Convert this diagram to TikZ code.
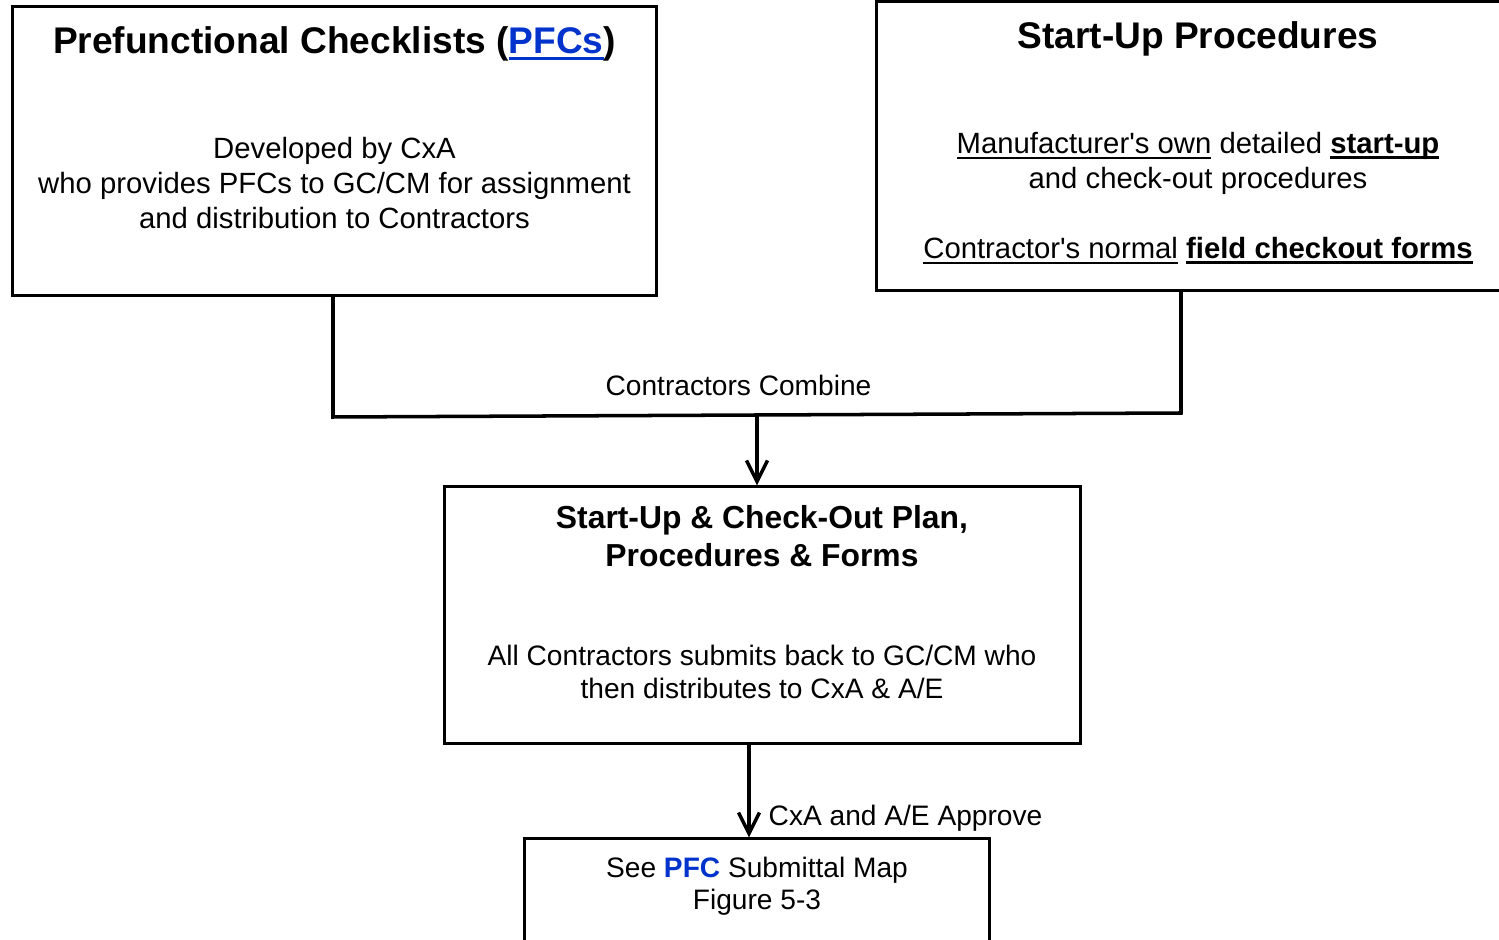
\documentclass[tikz,border=0pt]{standalone}
\usepackage{fontspec}
\setmainfont{Liberation Sans}[Ligatures=TeXOff]
\usetikzlibrary{arrows.meta}
\definecolor{linkblue}{RGB}{0,51,204}

% Underline drawn as a rule beneath a saved box
\newsavebox\undlbox
\newcommand{\undl}[2][0.6pt]{\sbox\undlbox{#2}\rlap{\rule[-1.6pt]{\wd\undlbox}{#1}}\usebox\undlbox}

\tikzset{
  box/.style={draw=black, line width=0.85pt, rectangle, inner sep=0pt},
  conn/.style={draw=black, line width=1pt},
  arrowconn/.style={conn, -{Straight Barb[length=2.1mm,width=2.1mm,line width=1pt]}},
  txt/.style={anchor=base, inner sep=0pt, font=\fontsize{8.33}{10}\selectfont},
  smalltxt/.style={anchor=base, inner sep=0pt, font=\fontsize{8}{10}\selectfont},
  title/.style={anchor=base, inner sep=0pt, font=\fontsize{10.55}{12}\selectfont\bfseries},
  midtitle/.style={anchor=base, inner sep=0pt, font=\fontsize{9.05}{11}\selectfont\bfseries},
}

\begin{document}
\begin{tikzpicture}[x=0.01cm, y=-0.01cm]
  \useasboundingbox (0,0) rectangle (1499,940);

  % Boxes
  \node[box, minimum width=6.43cm, minimum height=2.88cm] (pfc) at (334.5,151) {};
  \node[box, minimum width=6.42cm, minimum height=2.88cm] (sup) at (1198,146) {};
  \node[box, minimum width=6.35cm, minimum height=2.56cm] (plan) at (762.5,615) {};
  \node[box, minimum width=4.64cm, minimum height=1.50cm] (map) at (757,914) {};

  % Prefunctional checklists
  \node[title] (pfcT) at (334.5,54) {Prefunctional Checklists (\textcolor{linkblue}{\undl[0.8pt]{PFCs}})};
  \node[txt] (pfc1) at (334.5,158.5) {Developed by CxA};
  \node[txt] (pfc2) at (334.5,193.5) {who provides PFCs to GC/CM for assignment};
  \node[txt] (pfc3) at (334.5,228.5) {and distribution to Contractors};

  % Start-up procedures
  \node[title] (supT) at (1198,48.5) {Start-Up Procedures};
  \node[txt] (sup1) at (1198,153.5) {\undl{Manufacturer's own} detailed \undl[0.8pt]{\textbf{start-up}}};
  \node[txt] (sup2) at (1198,188.5) {and check-out procedures};
  \node[txt] (sup3) at (1198,258.5) {\undl{Contractor's normal} \undl[0.8pt]{\textbf{field checkout forms}}};

  % Plan box
  \node[midtitle] (planT1) at (762,529) {Start-Up \& Check-Out Plan,};
  \node[midtitle] (planT2) at (762,566.5) {Procedures \& Forms};
  \node[smalltxt] (plan1) at (762,666) {All Contractors submits back to GC/CM who};
  \node[smalltxt] (plan2) at (762,698.5) {then distributes to CxA \& A/E};

  % Submittal map box
  \node[smalltxt] (map1) at (757,877.5) {See \textcolor{linkblue}{\textbf{PFC}} Submittal Map};
  \node[smalltxt] (map2) at (757,909.5) {Figure 5-3};

  % Joining connector
  \coordinate (jl) at (333,417);
  \coordinate (jr) at (1181,413);
  \coordinate (jm) at (757,415);
  \coordinate (ax) at (749,0);
  \draw[conn] (pfc.south -| jl) -- (jl) -- (jr) -- (sup.south -| jr);
  \node[smalltxt] (combine) at (738.5,396) {Contractors Combine};
  \draw[arrowconn] (jm) -- (plan.north -| jm);

  % Approval arrow
  \draw[arrowconn] (plan.south -| ax) -- (map.north -| ax);
  \node[smalltxt, anchor=base west] (approve) at (768,826) {CxA and A/E Approve};
\end{tikzpicture}
\end{document}
